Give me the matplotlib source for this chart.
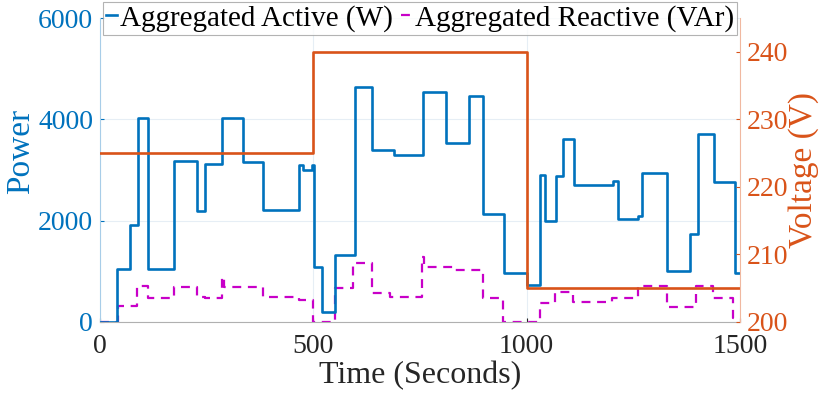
import matplotlib
matplotlib.use('Agg')
import matplotlib.pyplot as plt

plt.rcParams['font.family'] = ['Liberation Serif', 'DejaVu Serif']
plt.rcParams['mathtext.fontset'] = 'stix'

BLUE = '#0072BD'
ORANGE = '#D95319'
MAGENTA = '#C800C8'

# step change times (s) and the value held from each time on
active_t = [0, 39, 70, 88, 113, 173, 227, 246, 285, 334, 381, 467, 476, 496, 502,
            520, 551, 598, 637, 690, 756, 812, 866, 897, 947, 1000, 1031, 1043,
            1070, 1086, 1111, 1203, 1215, 1262, 1270, 1328, 1384, 1402, 1440, 1488, 1500]
active_w = [0, 1040, 1910, 4030, 1040, 3170, 2190, 3110, 4030, 3150, 2210, 3090, 3000, 3100, 1090,
            200, 1320, 4640, 3390, 3290, 4540, 3530, 4470, 2140, 960, 720, 2900, 2000,
            2880, 3620, 2700, 2780, 2040, 2100, 2950, 1000, 1730, 3720, 2760, 970, 970]

reactive_t = [0, 41, 86, 113, 173, 227, 246, 285, 290, 381, 467, 500,
              551, 594, 637, 680, 754, 760, 830, 897, 945, 1031, 1066, 1109,
              1200, 1262, 1328, 1398, 1437, 1484, 1500]
reactive_var = [0, 315, 700, 480, 690, 500, 480, 880, 690, 490, 430, 0,
                675, 1170, 565, 490, 1280, 1090, 1030, 465, 0, 370, 600, 400,
                470, 700, 300, 700, 470, 80, 80]

voltage_t = [0, 500, 1000, 1500]
voltage_v = [225, 240, 205, 205]

fig = plt.figure(figsize=(8.3, 3.94), dpi=100)
ax = fig.add_axes([0.1205, 0.183, 0.771, 0.771])
ax2 = ax.twinx()

l1, = ax.step(active_t, active_w, where='post', color=BLUE, lw=1.9,
              label='Aggregated Active (W)', zorder=3)
l2, = ax.step(reactive_t, reactive_var, where='post', color=MAGENTA, lw=1.6,
              ls=(0, (4, 3)), label='Aggregated Reactive (VAr)', zorder=2)
ax2.step(voltage_t, voltage_v, where='post', color=ORANGE, lw=1.9)

ax.set_xlim(0, 1500)
ax.set_ylim(0, 6000)
ax2.set_ylim(200, 245)
ax.set_xticks([0, 500, 1000, 1500])
ax.set_yticks([0, 2000, 4000, 6000])
ax2.set_yticks([200, 210, 220, 230, 240])

ax.grid(True, color='#E6EEF5', lw=0.8)
ax.set_axisbelow(True)

ax.tick_params(axis='x', direction='in', labelsize=20, colors='#262626', length=3, pad=9)
ax.tick_params(axis='y', direction='in', labelsize=20, colors=BLUE, length=3, pad=5)
ax2.tick_params(axis='y', direction='in', labelsize=20, colors=ORANGE, length=3, pad=5)

for a in (ax, ax2):
    a.spines['top'].set_visible(False)
ax.spines['left'].set_color('#A8CDE8')
ax.spines['right'].set_visible(False)
ax.spines['bottom'].set_color('#B0B0B0')
ax2.spines['right'].set_color('#F0B8A0')
ax2.spines['left'].set_visible(False)
ax2.spines['bottom'].set_visible(False)

ax.set_xlabel('Time (Seconds)', fontsize=23, color='#262626', labelpad=1)
ax.set_ylabel('Power', fontsize=24, color=BLUE)
ax.yaxis.set_label_coords(-0.1, 0.56)
ax2.set_ylabel('Voltage (V)', fontsize=24, color=ORANGE, labelpad=0)

leg = ax.legend(handles=[l1, l2], loc='upper center', bbox_to_anchor=(0.5, 1.053),
                ncol=2, fontsize=21, handlelength=0.4, handletextpad=0.1,
                columnspacing=0.25, borderpad=0.1, borderaxespad=0,
                frameon=True, fancybox=False, edgecolor='#A0A0A0')
leg.get_frame().set_linewidth(0.8)
leg.set_zorder(10)

fig.savefig('out.png', dpi=100)
